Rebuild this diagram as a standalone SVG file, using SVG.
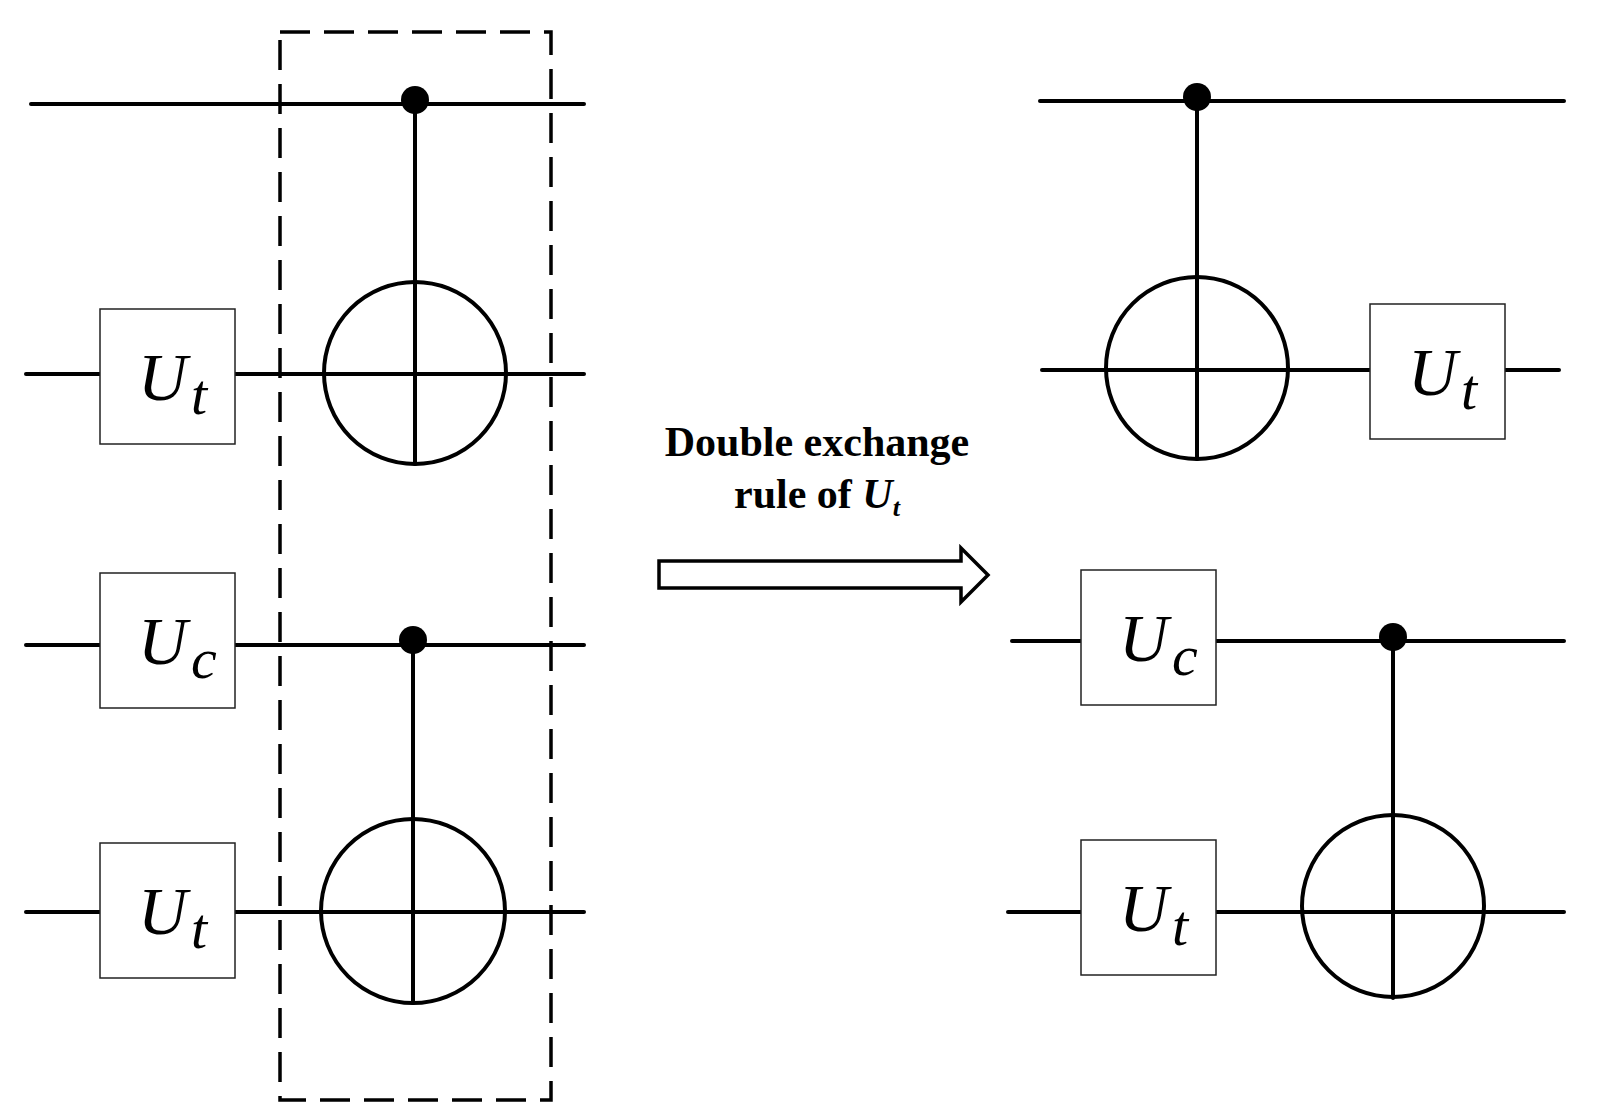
<svg xmlns="http://www.w3.org/2000/svg" width="1604" height="1116" viewBox="0 0 1604 1116">
<style>
.w{stroke:#000;stroke-width:4;fill:none;stroke-linecap:round}
.b{fill:#fff;stroke:#222;stroke-width:1.5}
.l{font-family:"Liberation Serif",serif;font-style:italic;font-size:68px}
.s{font-size:58px}
.t{font-family:"Liberation Serif",serif;font-weight:bold;font-size:42px;text-anchor:middle}
</style>
<rect width="1604" height="1116" fill="#fff"/>
<g id="connectors">
<line class="w" x1="31" y1="104" x2="584" y2="104"/>
<line class="w" x1="26" y1="374" x2="584" y2="374"/>
<line class="w" x1="26" y1="645" x2="584" y2="645"/>
<line class="w" x1="26" y1="912" x2="584" y2="912"/>
<line class="w" x1="415" y1="100" x2="415" y2="464"/>
<line class="w" x1="413" y1="640" x2="413" y2="1003"/>
<line class="w" x1="1040" y1="101" x2="1564" y2="101"/>
<line class="w" x1="1042" y1="370" x2="1559" y2="370"/>
<line class="w" x1="1012" y1="641" x2="1564" y2="641"/>
<line class="w" x1="1008" y1="912" x2="1564" y2="912"/>
<line class="w" x1="1197" y1="97" x2="1197" y2="459"/>
<line class="w" x1="1393" y1="637" x2="1393" y2="998"/>
</g>
<g id="dashbox"><rect x="280" y="32" width="271" height="1068" fill="none" stroke="#000" stroke-width="3.5" stroke-dasharray="30,14"/></g>
<g id="L1"><circle cx="415" cy="100" r="14"/><circle class="w" cx="415" cy="373" r="91"/></g>
<g id="L2"><circle cx="413" cy="640" r="14"/><circle class="w" cx="413" cy="911" r="92"/></g>
<g id="LUt1"><rect class="b" x="100" y="309" width="135" height="135"/><text class="l" x="138" y="400">U<tspan class="s" dx="4" dy="14">t</tspan></text></g>
<g id="LUc"><rect class="b" x="100" y="573" width="135" height="135"/><text class="l" x="138" y="664">U<tspan class="s" dx="4" dy="14">c</tspan></text></g>
<g id="LUt2"><rect class="b" x="100" y="843" width="135" height="135"/><text class="l" x="138" y="934">U<tspan class="s" dx="4" dy="14">t</tspan></text></g>
<g id="R1"><circle cx="1197" cy="97" r="14"/><circle class="w" cx="1197" cy="368" r="91"/></g>
<g id="R2"><circle cx="1393" cy="637" r="14"/><circle class="w" cx="1393" cy="906" r="91"/></g>
<g id="RUt1"><rect class="b" x="1370" y="304" width="135" height="135"/><text class="l" x="1408" y="395">U<tspan class="s" dx="4" dy="14">t</tspan></text></g>
<g id="RUc"><rect class="b" x="1081" y="570" width="135" height="135"/><text class="l" x="1119" y="661">U<tspan class="s" dx="4" dy="14">c</tspan></text></g>
<g id="RUt2"><rect class="b" x="1081" y="840" width="135" height="135"/><text class="l" x="1119" y="931">U<tspan class="s" dx="4" dy="14">t</tspan></text></g>
<g id="arrow"><polygon points="659,561 961,561 961,548 988,575 961,602 961,588 659,588" fill="#fff" stroke="#000" stroke-width="3.5"/></g>
<g id="label"><text class="t" x="817" y="456">Double exchange</text><text class="t" x="817" y="508">rule of <tspan font-style="italic">U</tspan><tspan font-style="italic" font-size="26" dy="8">t</tspan></text></g>
</svg>
